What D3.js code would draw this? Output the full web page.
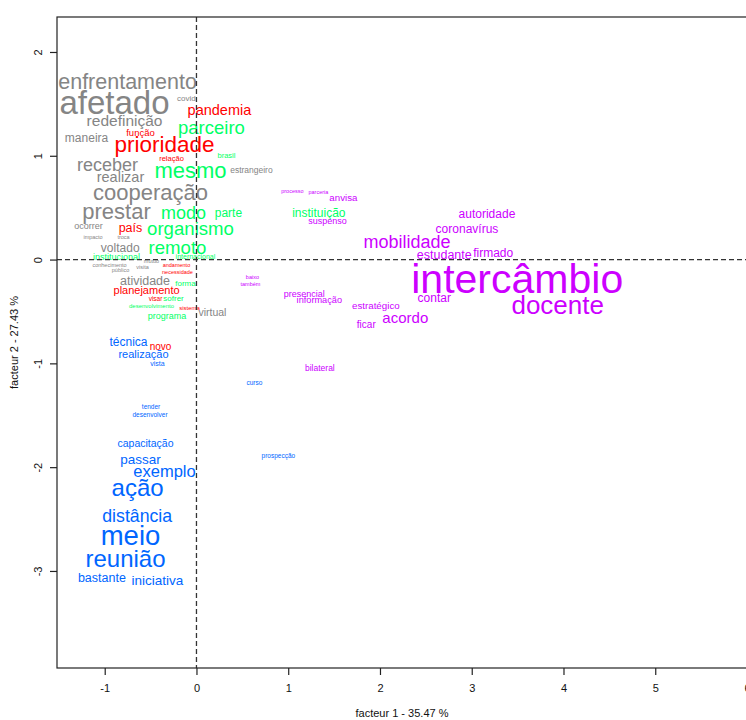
<!DOCTYPE html>
<html>
<head>
<meta charset="utf-8">
<script src="https://cdn.jsdelivr.net/npm/d3@7"></script>
<style>
  html, body { margin: 0; padding: 0; background: #fff; }
  svg { display: block; }
</style>
</head>
<body>
<svg id="chart" width="746" height="720"></svg>
<script>
// ---- data ----
const classNames = ["classe 1", "classe 2", "classe 3", "classe 4", "classe 5"];
const classColors = ["#858585", "#FF0000", "#00FF66", "#0066FF", "#CC00FF"];

const words = [
  // class 0 (grey)
  "enfrentamento","afetado","covid","redefinição","maneira","receber","realizar","cooperação","prestar","estrangeiro",
  "ocorrer","impacto","voltado","conhecimento","público","visita","mútuo","troca","atividade","virtual",
  // class 1 (red)
  "pandemia","função","prioridade","relação","país","andamento","necessidade","planejamento","visar","sistema","novo",
  // class 2 (green)
  "parceiro","brasil","mesmo","modo","parte","organismo","remoto","institucional","internacional","instituição",
  "forma","sofrer","desenvolvimento","programa",
  // class 3 (blue)
  "técnica","realização","vista","curso","tender","desenvolver","prospecção","capacitação","passar","exemplo",
  "ação","distância","meio","reunião","bastante","iniciativa",
  // class 4 (magenta)
  "processo","parceria","anvisa","suspenso","autoridade","coronavírus","mobilidade","estudante","firmado","intercâmbio",
  "docente","contar","estratégico","acordo","ficar","presencial","informação","baixo","também","bilateral"
];

const wordClass = [
  0,0,0,0,0,0,0,0,0,0, 0,0,0,0,0,0,0,0,0,0,
  1,1,1,1,1,1,1,1,1,1,1,
  2,2,2,2,2,2,2,2,2,2, 2,2,2,2,
  3,3,3,3,3,3,3,3,3,3, 3,3,3,3,3,3,
  4,4,4,4,4,4,4,4,4,4, 4,4,4,4,4,4,4,4,4,4
];

const factor1 = [
  -0.751,-0.893,-0.109,-0.784,-1.198,-0.969,-0.828,-0.501,-0.871,0.599,
  -1.176,-1.127,-0.831,-0.947,-0.828,-0.588,-0.490,-0.795,-0.561,0.174,
  0.250,-0.610,-0.348,-0.272,-0.719,-0.218,-0.207,-0.544,-0.446,-0.076,-0.392,
  0.163,0.327,-0.065,-0.142,0.348,-0.065,-0.207,-0.871,-0.011,1.334,
  -0.120,-0.250,-0.490,-0.321,
  -0.741,-0.577,-0.425,0.632,-0.495,-0.506,0.893,-0.555,-0.610,-0.348,
  -0.642,-0.646,-0.719,-0.773,-1.031,-0.425,
  1.045,1.329,1.601,1.427,3.166,2.948,2.294,2.701,3.234,3.496,
  3.937,2.592,1.955,2.276,1.851,1.176,1.339,0.610,0.588,1.345
];

const factor2 = [
  1.720,1.509,1.557,1.335,1.171,0.911,0.796,0.651,0.468,0.863,
  0.324,0.218,0.118,-0.052,-0.100,-0.071,-0.013,0.218,-0.206,-0.506,
  1.441,1.220,1.114,0.974,0.304,-0.057,-0.119,-0.293,-0.380,-0.461,-0.842,
  1.268,1.002,0.863,0.449,0.449,0.300,0.121,0.030,0.025,0.454,
  -0.225,-0.370,-0.442,-0.543,
  -0.794,-0.914,-1.006,-1.184,-1.420,-1.497,-1.887,-1.774,-1.921,-2.037,
  -2.200,-2.470,-2.653,-2.878,-3.061,-3.087,
  0.656,0.646,0.593,0.372,0.439,0.295,0.170,0.044,0.068,-0.182,
  -0.437,-0.365,-0.447,-0.558,-0.630,-0.328,-0.389,-0.168,-0.235,-1.044
];

const chi2 = [
  49.5,84,9,31.5,21,39,28.5,51,51,10.5,
  12,1.5,21,1.5,1.5,1.5,1.5,1.5,22.5,16.5,
  28.5,13.5,52.5,7.5,22.5,1.5,1.5,18,4.5,3,15,
  40.5,7.5,51,39,21,40.8,40.8,12,6,21,
  9,9,3,12,
  21,18,6,4.5,4.5,4.5,4.5,16.5,25.5,34.5,
  57,38.1,67.5,57,22.5,25.5,
  1.5,1.5,14.1,12,21,21,39,22.5,21,108,
  63,21,14.25,30,15,12,12.6,1.5,1.5,10.5
];

const xTicks = [-1, 0, 1, 2, 3, 4, 5, 6];
const yTicks = [2, 1, 0, -1, -2, -3];
const xTitle = "facteur  1  - 35.47 %";
const yTitle = "facteur  2  - 27.43 %";

// ---- drawing ----
(function () {
const svg = d3.select("#chart");
const pL = 57, pR = 747, pT = 17, pB = 668;

const x = d3.scaleLinear().domain([-1.52, 6.0]).range([pL, pR]);
const y = d3.scaleLinear().domain([-3.935, 2.337]).range([pB, pT]);
const fontSize = d3.scaleLinear().domain([0, 108]).range([5, 41]);

const axisFont = "'Liberation Sans Narrow', 'Arial Narrow', 'Liberation Sans', Arial, sans-serif";
const textFont = "'Liberation Sans', Arial, Helvetica, sans-serif";
const plainFmt = d => String(d);

const data = words.map((w, i) => ({
  word: w, cls: wordClass[i], f1: factor1[i], f2: factor2[i], chi: chi2[i]
}));

// words
svg.append("g")
  .selectAll("text")
  .data(data)
  .join("text")
  .attr("x", d => x(d.f1))
  .attr("y", d => y(d.f2))
  .attr("dy", "0.35em")
  .attr("text-anchor", "middle")
  .attr("font-family", textFont)
  .attr("font-size", d => fontSize(d.chi).toFixed(2) + "px")
  .attr("fill", d => classColors[d.cls])
  .text(d => d.word);

// dashed origin lines
svg.append("line")
  .attr("x1", x(0)).attr("x2", x(0))
  .attr("y1", pT).attr("y2", pB)
  .attr("stroke", "#333").attr("stroke-width", 1.3)
  .attr("stroke-dasharray", "5,3");
svg.append("line")
  .attr("x1", pL).attr("x2", pR)
  .attr("y1", y(0)).attr("y2", y(0))
  .attr("stroke", "#333").attr("stroke-width", 1.3)
  .attr("stroke-dasharray", "5,3");

// box
svg.append("rect")
  .attr("x", pL).attr("y", pT)
  .attr("width", pR - pL).attr("height", pB - pT)
  .attr("fill", "none").attr("stroke", "#222").attr("stroke-width", 1.2);

// x axis
const xAxis = d3.axisBottom(x).tickValues(xTicks).tickSize(7).tickPadding(9)
  .tickFormat(plainFmt);
const gx = svg.append("g").attr("transform", `translate(0,${pB})`).call(xAxis);
gx.select(".domain").remove();
gx.selectAll(".tick line").attr("stroke", "#222").attr("stroke-width", 1.2);
gx.selectAll(".tick text").attr("font-family", axisFont).attr("font-size", "11px").attr("fill", "#111");

// y axis
const yAxis = d3.axisLeft(y).tickValues(yTicks).tickSize(7).tickFormat(plainFmt);
const gy = svg.append("g").attr("transform", `translate(${pL},0)`).call(yAxis);
gy.select(".domain").remove();
gy.selectAll(".tick line").attr("stroke", "#222").attr("stroke-width", 1.2);
gy.selectAll(".tick text")
  .attr("font-family", axisFont).attr("font-size", "11px").attr("fill", "#111")
  .attr("x", null).attr("dy", null)
  .attr("text-anchor", "middle")
  .attr("transform", "translate(-15,0) rotate(-90)");

// titles
svg.append("text")
  .attr("x", (pL + pR) / 2).attr("y", 717)
  .attr("text-anchor", "middle")
  .attr("font-family", axisFont).attr("font-size", "11px").attr("fill", "#111")
  .text(xTitle);
svg.append("text")
  .attr("transform", `translate(18,${(pT + pB) / 2}) rotate(-90)`)
  .attr("text-anchor", "middle")
  .attr("font-family", axisFont).attr("font-size", "11px").attr("fill", "#111")
  .text(yTitle);
})();
</script>
</body>
</html>
